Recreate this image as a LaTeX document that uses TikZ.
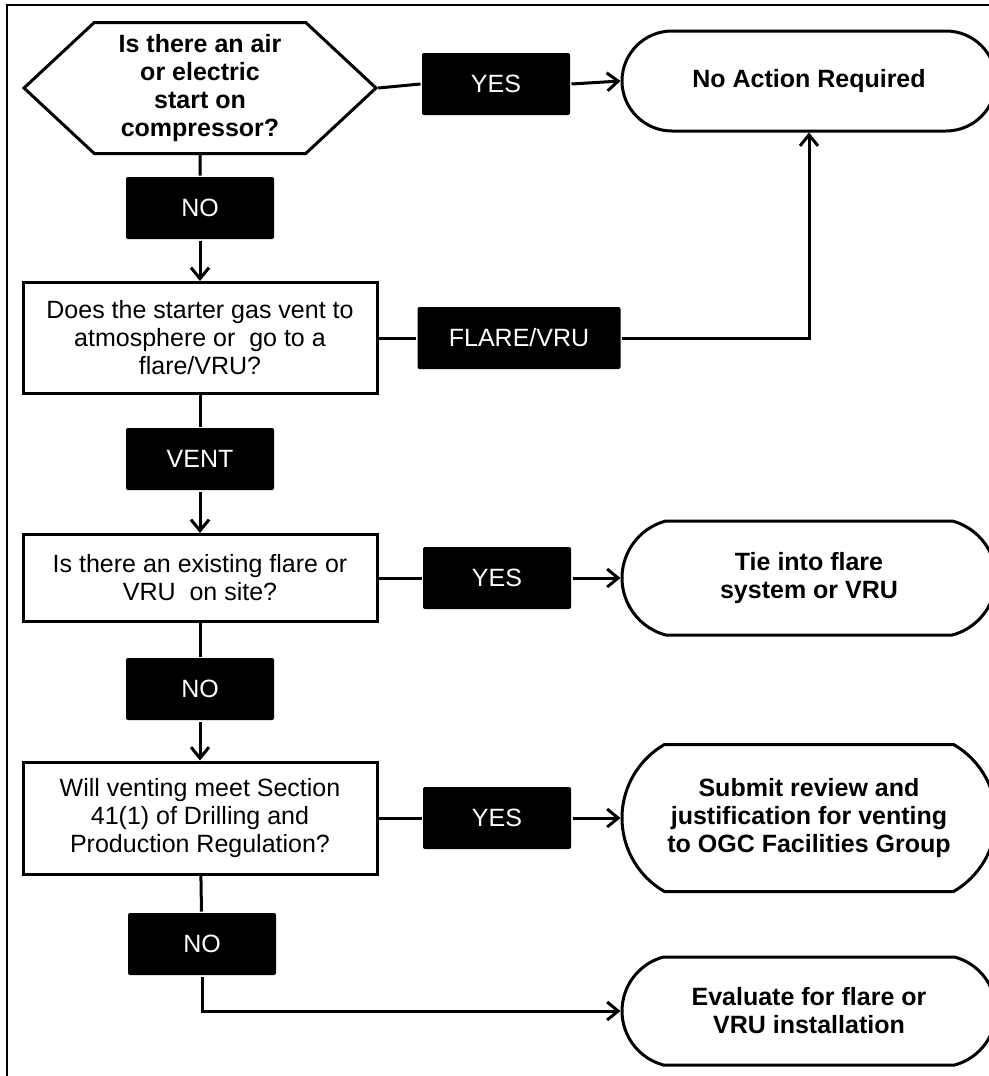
\documentclass[tikz,border=0pt]{standalone}
\usepackage{fontspec}
\setmainfont{Liberation Sans}
\usetikzlibrary{arrows.meta,shapes.misc,shapes.symbols,positioning}

\begin{document}
\begin{tikzpicture}[x=1pt,y=-1pt,line width=3pt,
	every node/.style={font=\fontsize{25}{28}\selectfont, align=center},
	decision/.style={shape=signal, signal to=west and east, signal pointer angle=86, draw, inner sep=0pt, minimum width=352pt, minimum height=131pt, font=\fontsize{25}{28}\selectfont\bfseries},
	query/.style={rectangle, draw, inner sep=0pt, minimum width=354pt},
	tag/.style={rectangle, fill=black, text=white, rounded corners=2pt, inner sep=0pt, minimum width=148pt, minimum height=62pt},
	terminal/.style={rounded rectangle, rounded rectangle arc length=150, draw, inner xsep=-10pt, inner ysep=0pt, minimum width=354pt, font=\fontsize{25}{28}\selectfont\bfseries},
	flow/.style={-{Straight Barb[length=11pt,width=18pt]}}]
		\useasboundingbox (0,0) rectangle (988,1076);
		\draw[line width=2pt] (7,5) rectangle (1000,1090);
		% left column
		\node[decision] (start) at (200,88) {Is there an air\\or electric\\start on\\compressor?};
		\node[tag] (no1) at (200,208) {NO};
		\node[query, minimum height=111pt] (vent) at (200,338) {Does the starter gas vent to\\atmosphere or~ go to a\\flare/VRU?};
		\node[tag] (ventlbl) at (200,459) {VENT};
		\node[query, minimum height=87pt] (exist) at (200,578) {Is there an existing flare or\\VRU~ on site?};
		\node[tag] (no2) at (200,689) {NO};
		\node[query, minimum height=112pt] (meet) at (200,818) {Will venting meet Section\\41(1) of Drilling and\\Production Regulation?};
		\node[tag] (no3) at (202,944) {NO};
		% middle labels
		\node[tag] (yes1) at (496,84) {YES};
		\node[tag, minimum width=203pt] (flare) at (519,338) {FLARE/VRU};
		\node[tag] (yes2) at (497,578) {YES};
		\node[tag] (yes3) at (497,818) {YES};
		% right column
		\node[terminal, minimum height=100pt, rounded rectangle arc length=180] (none) at (809,81) {No Action Required};
		\node[terminal, minimum height=114pt] (tie) at (809,578) {Tie into flare\\system or VRU};
		\node[terminal, minimum height=147pt, rounded rectangle arc length=120] (submit) at (809,818) {Submit review and\\justification for venting\\to OGC Facilities Group};
		\node[terminal, minimum height=108pt] (eval) at (809,1011) {Evaluate for flare or\\VRU installation};
		% connectors
		\draw (start.east) -- (yes1.west);
		\draw[flow] (yes1.east) -- (none.west);
		\draw (start) -- (no1);
		\draw[flow] (no1) -- (vent);
		\draw (vent) -- (flare);
		\draw[flow] (flare.east) -| (none.south);
		\draw (vent) -- (ventlbl);
		\draw[flow] (ventlbl) -- (exist);
		\draw (exist) -- (yes2);
		\draw[flow] (yes2) -- (tie);
		\draw (exist) -- (no2);
		\draw[flow] (no2) -- (meet);
		\draw (meet) -- (yes3);
		\draw[flow] (yes3) -- (submit);
		\draw (meet) -- (no3);
		\draw[flow] (no3) |- (eval);
\end{tikzpicture}
\end{document}
